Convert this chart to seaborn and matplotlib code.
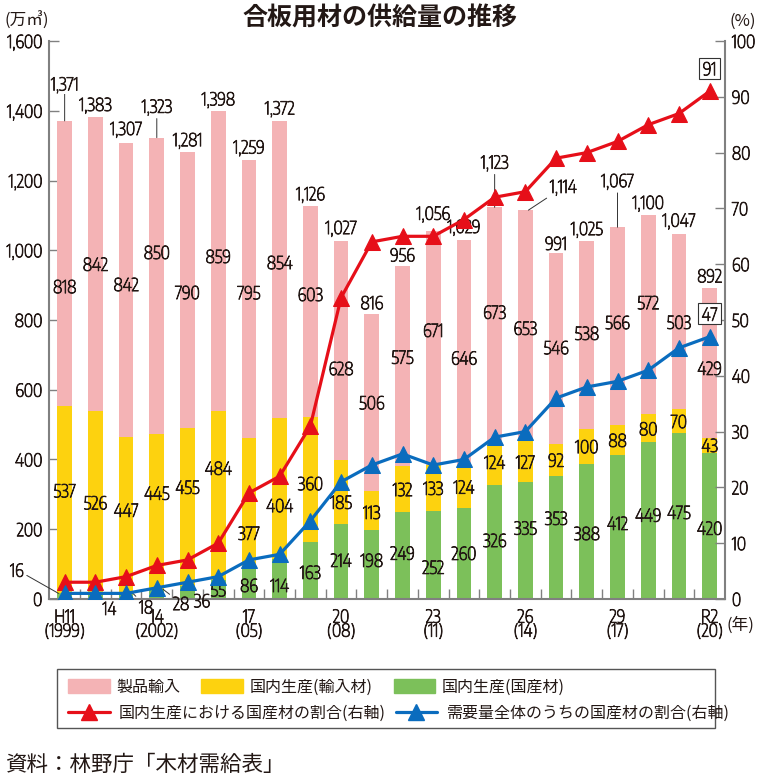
import os
import numpy as np
import pandas as pd
import matplotlib
matplotlib.use("Agg")
import matplotlib.pyplot as plt
import matplotlib.patheffects as pe
from matplotlib import font_manager as fm
from matplotlib.textpath import TextPath
from matplotlib.patches import Patch, Rectangle
from matplotlib.lines import Line2D
import seaborn as sns

# ---------------------------
# Data (万㎥ / %)
years = [1999, 2000, 2001, 2002, 2003, 2004, 2005, 2006, 2007, 2008, 2009,
         2010, 2011, 2012, 2013, 2014, 2015, 2016, 2017, 2018, 2019, 2020]
tick_idx = [0, 3, 6, 9, 12, 15, 18, 21]
tick_text = ["H11\n(1999)", "14\n(2002)", "17\n(05)", "20\n(08)",
             "23\n(11)", "26\n(14)", "29\n(17)", "R2\n(20)"]

domestic_wood = [16, 14, 18, 28, 36, 55, 86, 114, 163, 214, 198,
                 249, 252, 260, 326, 335, 353, 388, 412, 449, 475, 420]
imported_wood = [537, 526, 447, 445, 455, 484, 377, 404, 360, 185, 113,
                 132, 133, 124, 124, 127, 92, 100, 88, 80, 70, 43]
product_import = [818, 842, 842, 850, 790, 859, 795, 854, 603, 628, 506,
                  575, 671, 646, 673, 653, 546, 538, 566, 572, 503, 429]
totals = [1371, 1383, 1307, 1323, 1281, 1398, 1259, 1372, 1126, 1027, 816,
          956, 1056, 1029, 1123, 1114, 991, 1025, 1067, 1100, 1047, 892]
share_in_production = [3, 3, 4, 6, 7, 10, 19, 22, 31, 54, 64,
                       65, 65, 68, 72, 73, 79, 80, 82, 85, 87, 91]
share_in_demand = [1, 1, 1, 2, 3, 4, 7, 8, 14, 21, 24,
                   26, 24, 25, 29, 30, 36, 38, 39, 41, 45, 47]

# label nudges (data units on left axis) - layout only
pink_nudge = [-65, 0, 17, 97, -6, 15, 19, 21, 50, -51, 0,
              26, 51, -15, 37, -11, 4, 6, 11, 36, -2, -15]
yellow_nudge = [27, 0, 14, 54, 58, 79, -85, -47, -11, -28, -5,
                0, 0, 0, 5, -5, 0, 0, 0, 0, 0, 0]
green_nudge = [0, 0, 0, 0, 0, 0, -3, -17, -4, 5, 13,
               8, -34, 2, 6, 37, 56, -5, 12, 17, 12, -6]
# total labels: offset of label centre above bar top (points)
total_dy = [26, 8.5, 10, 22, 8.5, 8.5, 9, 8.5, 8.5, 9, 8.5,
            8, 12, 9, 32, 16.5, 7.5, 8.5, 33, 8.5, 9, 9]
total_leader = {0, 3, 14, 15, 18}
diag_idx = 15
# small green values drawn outside the bar: (dx, dy) points, anchor x shift
small_green = {0: (-30, 17, -0.2), 1: (9, -10, 0.05), 2: (10, -10, 0.2),
               3: (13, -10, 0.2), 4: (7, -10, 0.15)}

PINK = "#f4b3b5"
YELLOW = "#fdd20f"
GREEN = "#7cc05a"
RED = "#e60f19"
BLUE = "#0a6cbe"
GRAY = "#808080"
TXT = "#231815"

sns.set_theme(style="white")
cjk = ["Noto Sans CJK JP", "DejaVu Sans"]
plt.rcParams["font.family"] = cjk
plt.rcParams["text.color"] = TXT


# ---------------------------
# pick an installed sans face whose digits are about as condensed as the
# original (stem of "I" used to weed out bold faces)
def ext(fname, s):
    return TextPath((0, 0), s, prop=fm.FontProperties(fname=fname, size=10)).get_extents()


TARGET = 23 / 14  # width of "818" / digit height in the original
skip = ("bold", "black", "heavy", "medium", "light", "thin", "italic", "oblique", "mono", "serif")
best, best_d, best_h = None, 9, None
for f in fm.fontManager.ttflist:
    base = os.path.basename(f.fname).lower()
    if f.style != "normal" or any(k in base for k in skip):
        continue
    if "Serif" in f.name or "Mono" in f.name:
        continue
    if not any(k in f.name for k in ("Sans", "Roboto", "Lato", "Inter")):
        continue
    try:
        e8, eI = ext(f.fname, "8"), ext(f.fname, "I")
        w = ext(f.fname, "818").width
    except Exception:
        continue
    if e8.height <= 0 or eI.height <= 0 or eI.width / eI.height > 0.16:
        continue
    d = abs(w / e8.height - TARGET)
    if d < best_d:
        best, best_d, best_h = f, d, e8.height
if best is None:
    num_file = fm.findfont("Noto Sans CJK JP")
    best_h = ext(num_file, "8").height
else:
    num_file = best.fname
# size so that digits are about 13.5 px tall
fs = float(np.clip(13.5 * 0.72 / (best_h / 10), 10.5, 14))
NUMF = fm.FontProperties(fname=num_file, size=fs)
# a little extra stroke so thin faces read like the original's regular weight
THICK = [pe.withStroke(linewidth=0.6, foreground=TXT)]

df = pd.DataFrame({"year": years, "green": domestic_wood,
                   "yellow": imported_wood, "pink": product_import})
df["mid"] = df["green"] + df["yellow"]
df["top"] = df["mid"] + df["pink"]

fig = plt.figure(figsize=(7.63, 7.80), dpi=100)
ax = fig.add_axes([0.0646, 0.2321, 0.8856, 0.7153])

# ---------------------------
# stacked bars (drawn as overlapping cumulative bars)
for col, c in [("top", PINK), ("mid", YELLOW), ("green", GREEN)]:
    sns.barplot(data=df, x="year", y=col, color=c, saturation=1,
                width=0.48, linewidth=0, ax=ax)

n = len(years)
line_kw = dict(arrowstyle="-", color="#333333", lw=0.7, shrinkA=0, shrinkB=0)
num_kw = dict(ha="center", va="center", fontproperties=NUMF, path_effects=THICK)
for i in range(n):
    g, y, p = domestic_wood[i], imported_wood[i], product_import[i]
    ax.text(i, g + y + p / 2 + pink_nudge[i], f"{p}", **num_kw)
    ax.text(i, g + y / 2 + yellow_nudge[i], f"{y}", **num_kw)
    if i in small_green:
        dx, dy, sx = small_green[i]
        ax.annotate(f"{g}", xy=(i + sx, g), xytext=(dx, dy), textcoords="offset points",
                    annotation_clip=False, arrowprops=line_kw, **num_kw)
    else:
        ax.text(i, g / 2 + green_nudge[i], f"{g}", **num_kw)

    # total on top
    ax.annotate(f"{totals[i]:,}", xy=(i + (0.1 if i == diag_idx else 0), df["top"][i]),
                xytext=(25 if i == diag_idx else 0, total_dy[i]), textcoords="offset points",
                arrowprops=line_kw if i in total_leader else None,
                bbox=dict(boxstyle="square,pad=0.05", fc="white", ec="none") if i == 0 else None,
                annotation_clip=False, zorder=4, **num_kw)

ax.set_xlim(-0.5, n - 0.5)
ax.set_ylim(0, 1600)
ax.set_yticks(range(0, 1601, 200))
ax.set_yticklabels([f"{v:,}" for v in range(0, 1601, 200)])
ax.set_xticks(tick_idx)
ax.set_xticklabels(tick_text, linespacing=1.0)
ax.set_xticks(np.arange(0.5, n - 1, 1), minor=True)
ax.tick_params(axis="x", which="major", length=0, pad=7, labelcolor=TXT)
ax.tick_params(axis="x", which="minor", direction="in", length=7, width=1, color=GRAY, bottom=True)
ax.tick_params(axis="y", direction="in", length=7, width=1, color=GRAY, pad=5,
               labelcolor=TXT, left=True)
ax.set_xlabel("")
ax.set_ylabel("")
for s in ["top", "right"]:
    ax.spines[s].set_visible(False)
for s in ["left", "bottom"]:
    ax.spines[s].set_color(GRAY)
    ax.spines[s].set_linewidth(1.5)

# ---------------------------
# share lines on right axis
ax2 = ax.twinx()
xs = np.arange(n)
sns.lineplot(x=xs, y=share_in_production, color=RED, marker="^", markersize=11,
             markeredgecolor=RED, linewidth=2.3, ax=ax2)
sns.lineplot(x=xs, y=share_in_demand, color=BLUE, marker="^", markersize=11,
             markeredgecolor=BLUE, linewidth=2.3, ax=ax2)
ax2.set_ylim(0, 100)
ax2.set_yticks(range(0, 101, 10))
ax2.tick_params(axis="y", direction="in", length=7, width=1, color=GRAY, pad=5,
                labelcolor=TXT, right=True)
ax2.set_ylabel("")
for s in ["top", "left", "bottom"]:
    ax2.spines[s].set_visible(False)
ax2.spines["right"].set_color(GRAY)
ax2.spines["right"].set_linewidth(1.5)
ax.set_xlim(-0.5, n - 0.5)

for t in ax.get_xticklabels() + ax.get_yticklabels() + ax2.get_yticklabels():
    t.set_fontproperties(NUMF)
    t.set_path_effects(THICK)

boxed = dict(boxstyle="square,pad=0.2", fc="white", ec="#333333", lw=0.8)
ax2.annotate(f"{share_in_production[-1]}", xy=(n - 1, share_in_production[-1]), xytext=(0, 16.5),
             textcoords="offset points", bbox=boxed, **num_kw)
ax2.annotate(f"{share_in_demand[-1]}", xy=(n - 1, share_in_demand[-1]), xytext=(0, 16.5),
             textcoords="offset points", bbox=boxed, **num_kw)

# ---------------------------
# titles / units / source
fig.text(0.498, 1 - 19 / 780, "合板用材の供給量の推移", ha="center", va="center",
         fontsize=18, fontweight="bold", family=cjk)
fig.text(5 / 763, 1 - 21 / 780, "(万㎥)", ha="left", va="center", fontsize=12, family=cjk)
fig.text(743 / 763, 1 - 21 / 780, "(%)", ha="center", va="center", fontsize=12, family=cjk)
fig.text(726 / 763, 1 - 625 / 780, "(年)", ha="left", va="center", fontsize=12, family=cjk)
fig.text(5 / 763, 1 - 765 / 780, "資料：林野庁「木材需給表」", ha="left", va="center",
         fontsize=15.5, family=cjk)

# ---------------------------
# legend (two rows inside one frame)
lfs = 11.5
h1 = [Patch(color=PINK), Patch(color=YELLOW), Patch(color=GREEN)]
l1 = ["製品輸入", "国内生産(輸入材)", "国内生産(国産材)"]
leg1 = fig.legend(h1, l1, ncol=3, loc="center left", bbox_to_anchor=(68 / 763, 1 - 687 / 780),
                  frameon=False, handlelength=2.6, handleheight=0.9,
                  handletextpad=0.4, columnspacing=1.35, borderpad=0, borderaxespad=0,
                  prop={"family": cjk, "size": lfs})
h2 = [Line2D([], [], color=RED, marker="^", markersize=11, lw=2.3),
      Line2D([], [], color=BLUE, marker="^", markersize=11, lw=2.3)]
l2 = ["国内生産における国産材の割合(右軸)", "需要量全体のうちの国産材の割合(右軸)"]
leg2 = fig.legend(h2, l2, ncol=2, loc="center left", bbox_to_anchor=(68 / 763, 1 - 713 / 780),
                  frameon=False, handlelength=2.6, handletextpad=0.6,
                  columnspacing=0.6, borderpad=0, borderaxespad=0,
                  prop={"family": cjk, "size": lfs})
fig.add_artist(Rectangle((57 / 763, 1 - 728 / 780), (715 - 57) / 763, (728 - 669) / 780,
                         transform=fig.transFigure, fill=False, ec="#555555", lw=1))

plt.savefig("out.png", dpi=100)
